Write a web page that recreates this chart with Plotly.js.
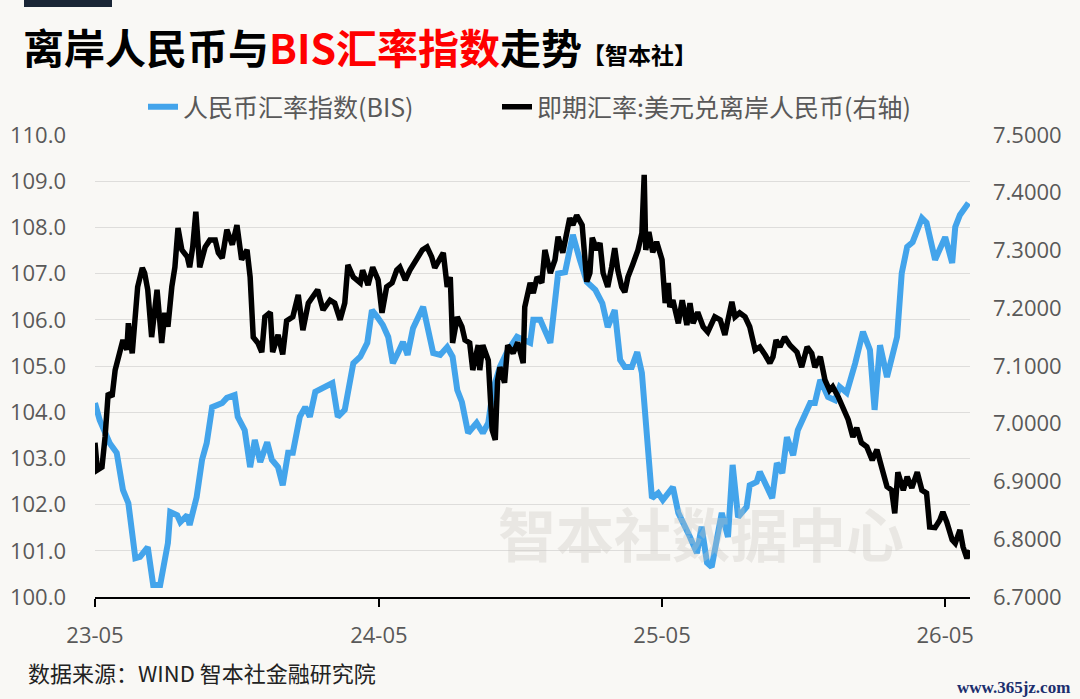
<!DOCTYPE html>
<html>
<head>
<meta charset="utf-8">
<script src="https://cdn.plot.ly/plotly-3.0.1.min.js"></script>
<style>
html,body{margin:0;padding:0;background:#f9f8f5;}
#chart{width:1080px;height:699px;}
</style>
</head>
<body>
<div id="chart"></div>
<script>
// ---- Data ----
const seriesNames = ['人民币汇率指数(BIS)', '即期汇率:美元兑离岸人民币(右轴)'];

const bisDates = [
'2023-05-01','2023-05-07','2023-05-20','2023-05-29','2023-06-06','2023-06-13','2023-06-22','2023-06-28',
'2023-07-08','2023-07-15','2023-07-24','2023-08-03','2023-08-06','2023-08-15','2023-08-19','2023-08-28',
'2023-08-31','2023-09-09','2023-09-16','2023-09-22','2023-09-29','2023-10-12','2023-10-18','2023-10-28',
'2023-11-01','2023-11-10','2023-11-17','2023-11-23','2023-11-30','2023-12-09','2023-12-15','2023-12-23',
'2023-12-29','2024-01-05','2024-01-11','2024-01-20','2024-01-27','2024-02-02','2024-02-09','2024-02-19',
'2024-03-02','2024-03-09','2024-03-18','2024-03-29','2024-04-07','2024-04-16','2024-04-22','2024-04-29',
'2024-05-06','2024-05-13','2024-05-19','2024-05-26','2024-06-01','2024-06-07','2024-06-14','2024-06-27',
'2024-07-10','2024-07-19','2024-07-28','2024-08-04','2024-08-10','2024-08-16','2024-08-24','2024-09-04',
'2024-09-12','2024-09-19','2024-09-25','2024-10-04','2024-10-13','2024-10-26','2024-11-03','2024-11-12',
'2024-11-16','2024-11-25','2024-12-08','2024-12-18','2024-12-27','2025-01-06','2025-01-15','2025-01-24',
'2025-02-04','2025-02-13','2025-02-20','2025-03-01','2025-03-08','2025-03-14','2025-03-23','2025-03-30',
'2025-04-05','2025-04-12','2025-04-18','2025-04-26','2025-05-02','2025-05-15','2025-05-22','2025-06-06',
'2025-06-15','2025-06-21','2025-06-28','2025-07-04','2025-07-17','2025-07-25','2025-07-31','2025-08-07',
'2025-08-18','2025-08-22','2025-08-31','2025-09-04','2025-09-20','2025-09-26','2025-10-03','2025-10-09',
'2025-10-17','2025-10-23','2025-11-08','2025-11-14','2025-11-21','2025-12-01','2025-12-10','2025-12-16',
'2025-12-25','2026-01-05','2026-01-15','2026-01-24','2026-01-30','2026-02-06','2026-02-15','2026-02-28',
'2026-03-06','2026-03-13','2026-03-20','2026-04-01','2026-04-07','2026-04-18','2026-05-01','2026-05-10',
'2026-05-14','2026-05-20','2026-05-31'
];
const bisValues = [
104.20,103.83,103.33,103.12,102.32,102.03,100.84,100.87,
101.08,100.26,100.26,101.17,101.84,101.77,101.62,101.77,
101.56,102.16,102.97,103.33,104.11,104.20,104.31,104.37,
103.90,103.61,102.81,103.40,102.92,103.35,102.97,102.81,
102.42,103.12,103.12,103.90,104.11,103.90,104.44,104.52,
104.63,103.90,104.05,105.06,105.20,105.50,106.21,106.06,
105.89,105.63,105.06,105.30,105.52,105.24,105.82,106.28,
105.28,105.24,105.41,105.20,104.48,104.22,103.55,103.77,
103.55,103.77,104.48,104.98,105.30,105.63,105.56,105.50,
106.00,106.00,105.50,107.00,107.03,107.84,107.30,106.82,
106.65,106.36,105.84,106.21,105.13,104.98,104.98,105.30,
104.85,103.46,102.14,102.25,102.10,102.38,101.82,101.30,
100.95,101.52,100.74,100.65,101.82,101.30,102.86,101.73,
101.95,102.42,102.49,102.71,102.14,102.90,102.68,103.46,
103.07,103.61,104.20,104.20,104.70,104.33,104.26,104.55,
104.42,105.06,105.74,105.35,104.05,105.45,104.76,105.63,
107.01,107.58,107.68,108.20,108.10,107.30,107.79,107.23,
108.01,108.27,108.53
];

const fxDates = [
'2023-05-01','2023-05-04','2023-05-10','2023-05-14','2023-05-18','2023-05-23','2023-05-27','2023-05-31',
'2023-06-06','2023-06-11','2023-06-13','2023-06-18','2023-06-22','2023-06-25','2023-07-01','2023-07-04',
'2023-07-08','2023-07-13','2023-07-20','2023-07-26','2023-07-30','2023-08-03','2023-08-08','2023-08-12',
'2023-08-16','2023-08-21','2023-08-28','2023-08-31','2023-09-04','2023-09-08','2023-09-13','2023-09-20',
'2023-09-26','2023-10-03','2023-10-07','2023-10-12','2023-10-18','2023-10-25','2023-10-31','2023-11-06',
'2023-11-13','2023-11-17','2023-11-21','2023-11-27','2023-12-02','2023-12-06','2023-12-13','2023-12-16',
'2023-12-23','2023-12-29','2024-01-03','2024-01-11','2024-01-18','2024-01-24','2024-01-31','2024-02-06',
'2024-02-12','2024-02-19','2024-02-28','2024-03-05','2024-03-12','2024-03-18','2024-03-22','2024-03-29',
'2024-04-07','2024-04-10','2024-04-17','2024-04-23','2024-04-30','2024-05-05','2024-05-11','2024-05-18',
'2024-05-24','2024-05-28','2024-06-04','2024-06-10','2024-06-19','2024-06-26','2024-07-02','2024-07-08',
'2024-07-12','2024-07-19','2024-07-23','2024-07-28','2024-08-01','2024-08-04','2024-08-10','2024-08-16',
'2024-08-20','2024-08-26','2024-08-30','2024-09-06','2024-09-08','2024-09-12','2024-09-19','2024-09-24',
'2024-09-28','2024-10-01','2024-10-04','2024-10-10','2024-10-14','2024-10-21','2024-10-27','2024-11-03',
'2024-11-05','2024-11-12','2024-11-16','2024-11-21','2024-11-27','2024-12-01','2024-12-08','2024-12-14',
'2024-12-18','2024-12-24','2024-12-29','2025-01-02','2025-01-06','2025-01-11','2025-01-18','2025-01-22',
'2025-01-24','2025-01-28','2025-01-31','2025-02-06','2025-02-10','2025-02-14','2025-02-20','2025-02-25',
'2025-03-01','2025-03-05','2025-03-10','2025-03-14','2025-03-18','2025-03-24','2025-03-31','2025-04-05',
'2025-04-08','2025-04-10','2025-04-14','2025-04-19','2025-04-24','2025-05-01','2025-05-05','2025-05-09',
'2025-05-11','2025-05-15','2025-05-22','2025-05-27','2025-06-02','2025-06-06','2025-06-10','2025-06-16',
'2025-06-23','2025-06-29','2025-07-08','2025-07-15','2025-07-21','2025-07-25','2025-07-30','2025-08-03',
'2025-08-09','2025-08-16','2025-08-22','2025-08-29','2025-09-04','2025-09-11','2025-09-17','2025-09-21',
'2025-09-25','2025-09-30','2025-10-06','2025-10-13','2025-10-22','2025-10-28','2025-11-04','2025-11-10',
'2025-11-14','2025-11-21','2025-11-27','2025-12-03','2025-12-07','2025-12-14','2025-12-20','2025-12-27',
'2026-01-02','2026-01-07','2026-01-13','2026-01-20','2026-01-27','2026-02-02','2026-02-08','2026-02-15',
'2026-02-21','2026-02-25','2026-03-01','2026-03-08','2026-03-13','2026-03-19','2026-03-26','2026-04-01',
'2026-04-07','2026-04-11','2026-04-18','2026-04-24','2026-04-28','2026-05-03','2026-05-10','2026-05-14',
'2026-05-20','2026-05-24','2026-05-29','2026-06-02'
];
const fxValues = [
6.967,6.920,6.925,6.977,7.053,7.047,7.093,7.116,
7.145,7.128,7.174,7.122,7.192,7.237,7.270,7.261,
7.232,7.150,7.232,7.140,7.192,7.168,7.237,7.271,
7.339,7.301,7.289,7.271,7.306,7.367,7.271,7.306,
7.318,7.318,7.296,7.287,7.336,7.310,7.344,7.284,
7.301,7.254,7.150,7.140,7.124,7.185,7.193,7.124,
7.154,7.120,7.178,7.185,7.223,7.162,7.209,7.219,
7.232,7.197,7.214,7.209,7.180,7.209,7.275,7.254,
7.244,7.266,7.240,7.271,7.249,7.192,7.237,7.244,
7.266,7.271,7.249,7.266,7.287,7.301,7.306,7.289,
7.270,7.289,7.296,7.237,7.254,7.140,7.185,7.168,
7.145,7.140,7.093,7.136,7.093,7.136,7.110,6.989,
6.972,7.075,7.098,7.071,7.136,7.122,7.141,7.105,
7.202,7.244,7.226,7.254,7.244,7.301,7.261,7.284,
7.324,7.296,7.336,7.356,7.344,7.361,7.344,7.289,
7.246,7.261,7.322,7.301,7.313,7.261,7.237,7.271,
7.304,7.266,7.237,7.228,7.254,7.275,7.301,7.330,
7.431,7.301,7.332,7.297,7.315,7.284,7.209,7.244,
7.202,7.214,7.174,7.214,7.171,7.209,7.174,7.193,
7.168,7.159,7.185,7.180,7.154,7.180,7.211,7.185,
7.192,7.185,7.168,7.128,7.133,7.119,7.105,7.116,
7.145,7.133,7.150,7.136,7.124,7.098,7.133,7.122,
7.098,7.116,7.076,7.058,7.064,7.047,7.029,7.007,
6.977,6.993,6.967,6.960,6.937,6.955,6.925,6.891,
6.885,6.845,6.916,6.885,6.908,6.889,6.916,6.885,
6.880,6.821,6.820,6.833,6.847,6.830,6.799,6.793,
6.816,6.787,6.767,6.781
];

const xTickVals = ['2023-05-01','2024-05-01','2025-05-01','2026-05-01'];
const xTickText = ['23-05','24-05','25-05','26-05'];
const xRange = ['2023-05-01','2026-06-02'];
const leftRange = [100, 110];
const rightRange = [6.7, 7.5];

// ---- Chart ----
const tickFont = {family: 'Open Sans, Noto Sans, sans-serif', size: 22, color: '#595959'};
const cjk = 'Noto Sans CJK SC, Noto Sans, sans-serif';

const traces = [
  {
    x: bisDates, y: bisValues, name: seriesNames[0], type: 'scatter', mode: 'lines',
    line: {color: '#43a4eb', width: 6}, yaxis: 'y', legendwidth: 309
  },
  {
    x: fxDates, y: fxValues, name: seriesNames[1], type: 'scatter', mode: 'lines',
    line: {color: '#000000', width: 5.5}, yaxis: 'y2', legendwidth: 420
  }
];

const layout = {
  width: 1080, height: 699,
  paper_bgcolor: '#f9f8f5', plot_bgcolor: '#f9f8f5',
  margin: {l: 95, r: 110, t: 135, b: 102},
  title: {
    text: '<b>离岸人民币与<span style="color:#ff0000">BIS汇率指数</span>走势</b><span style="font-size:23px"><b>【智本社】</b></span>',
    font: {family: cjk, size: 41, color: '#000000'},
    x: 23/1080, xanchor: 'left', xref: 'container',
    y: 1 - 50/699, yanchor: 'middle', yref: 'container'
  },
  showlegend: true,
  legend: {
    orientation: 'h', xref: 'container', yref: 'container',
    x: 143/1080, xanchor: 'left', y: 1 - 107/699, yanchor: 'middle',
    font: {family: cjk, size: 25, color: '#595959'},
    itemwidth: 30, bgcolor: 'rgba(0,0,0,0)'
  },
  xaxis: {
    type: 'date', range: xRange, tickvals: xTickVals, ticktext: xTickText,
    showgrid: false, zeroline: false, showline: true, linecolor: '#000000', linewidth: 1.5,
    ticks: 'outside', ticklen: 8, tickwidth: 1.5, tickcolor: '#000000',
    tickfont: tickFont, ticklabelstandoff: 10
  },
  yaxis: {
    range: leftRange, dtick: 1, tick0: 100, tickformat: '.1f',
    showgrid: true, gridcolor: '#dedddb', gridwidth: 1, zeroline: false, showline: false,
    ticks: '', tickfont: tickFont, ticklabelstandoff: 28
  },
  yaxis2: {
    range: rightRange, dtick: 0.1, tick0: 6.7, tickformat: '.4f',
    overlaying: 'y', side: 'right', showgrid: false, zeroline: false, showline: false,
    ticks: '', tickfont: tickFont, ticklabelstandoff: 22
  },
  shapes: [
    {type: 'rect', xref: 'paper', yref: 'paper',
     x0: (24-95)/875, x1: (112-95)/875, y0: (597-0)/462, y1: (597-7)/462,
     fillcolor: '#1a2636', line: {width: 0}}
  ],
  annotations: [
    {text: '<b>智本社数据中心</b>', xref: 'paper', yref: 'paper',
     x: (701-95)/875, y: (597-532)/462, xanchor: 'center', yanchor: 'middle', showarrow: false,
     font: {family: cjk, size: 58, color: 'rgba(200,198,192,0.33)'}},
    {text: '数据来源：WIND 智本社金融研究院', xref: 'paper', yref: 'paper',
     x: (26-95)/875, y: (597-672)/462, xanchor: 'left', yanchor: 'middle', showarrow: false,
     font: {family: cjk, size: 22, color: '#222222'}},
    {text: '<b>www.365jz.com</b>', xref: 'paper', yref: 'paper',
     x: (1072-95)/875, y: (597-687)/462, xanchor: 'right', yanchor: 'middle', showarrow: false,
     font: {family: 'Liberation Serif, DejaVu Serif, serif', size: 17, color: '#1c2f6e'}}
  ]
};

Plotly.newPlot('chart', traces, layout, {displayModeBar: false, staticPlot: true});
</script>
</body>
</html>
